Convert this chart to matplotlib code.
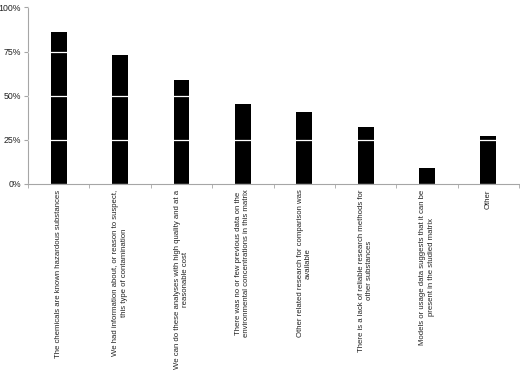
import numpy as np
import matplotlib
matplotlib.use("Agg")
import matplotlib.pyplot as plt
from matplotlib.ticker import PercentFormatter

labels = [
    "The chemicals are known hazardous substances",
    "We had information about, or reason to suspect,\nthis type of contamination",
    "We can do these analyses with high quality and at a\nreasonable cost",
    "There was no or few previous data on the\nenvironmental concentrations in this matrix",
    "Other related research for comparison was\navailable",
    "There is a lack of reliable research methods for\nother substances",
    "Models or usage data suggests that it can be\npresent in the studied matrix",
    "Other",
]
values = [86, 73, 59, 45, 41, 32, 9, 27]
yticks = [0, 25, 50, 75, 100]

plt.rcParams['font.family'] = ['Liberation Sans Narrow', 'Liberation Sans', 'DejaVu Sans']

fig = plt.figure(figsize=(5.2, 3.7), dpi=100)
ax = fig.add_axes([0.054, 0.503, 0.944, 0.477])

ind = np.arange(len(values))
ax.bar(ind, values, 0.26, color='black', zorder=2)

ax.set_xlim(-0.5, len(values) - 0.5)
ax.set_ylim(0, 100)
ax.set_yticks(yticks)
ax.yaxis.set_major_formatter(PercentFormatter(decimals=0))
ax.yaxis.grid(True, color='white', linewidth=0.9, zorder=3)
ax.set_axisbelow(False)

ax.set_xticks(ind)
ax.set_xticklabels(labels, rotation=90, ha='center', va='top',
                   multialignment='center', fontsize=5.6, color='#222222',
                   linespacing=1.25)
ax.tick_params(axis='x', length=0, pad=4)
ax.set_xticks(np.arange(len(values) + 1) - 0.5, minor=True)
ax.tick_params(axis='x', which='minor', length=3, color='#a6a6a6', direction='out')
ax.tick_params(axis='y', length=3, color='#a6a6a6', labelsize=6.3,
               labelcolor='#222222', pad=2)

for s in ['top', 'right']:
    ax.spines[s].set_visible(False)
for s in ['left', 'bottom']:
    ax.spines[s].set_color('#a6a6a6')
    ax.spines[s].set_linewidth(0.8)

fig.savefig('out.png', dpi=100)
